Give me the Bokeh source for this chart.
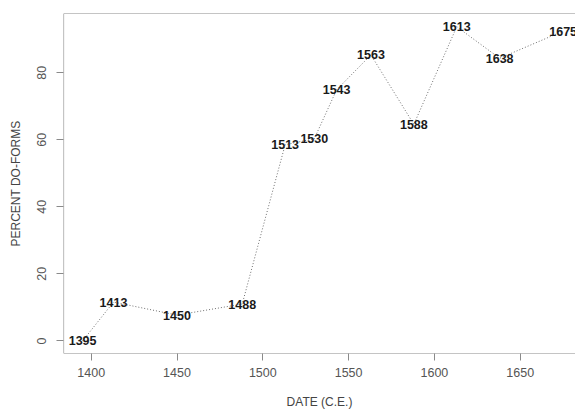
from bokeh.plotting import figure
from bokeh.models import ColumnDataSource, FixedTicker, Range1d, Span
from bokeh.core.properties import value
from bokeh.embed import file_html
from bokeh.resources import INLINE

# Data
years = [1395, 1413, 1450, 1488, 1513, 1530, 1543, 1563, 1588, 1613, 1638, 1675]
percent = [0.0, 11.6, 7.7, 11.0, 58.5, 60.3, 74.9, 85.3, 64.6, 93.7, 84.3, 92.4]
labels = [str(y) for y in years]
x_ticks = [1400, 1450, 1500, 1550, 1600, 1650]
y_ticks = [0, 20, 40, 60, 80]

X0, X1 = 1383.86, 1682.2
Y0, Y1 = -3.75, 97.65

src = ColumnDataSource(dict(x=years, y=percent, label=labels))

p = figure(width=575, height=411, output_backend="svg", toolbar_location=None,
           x_range=Range1d(X0, X1), y_range=Range1d(Y0, Y1),
           min_border_left=63, min_border_top=13, min_border_bottom=55, min_border_right=0)

p.background_fill_color = "white"
p.border_fill_color = "white"
p.outline_line_color = None
p.xgrid.visible = False
p.ygrid.visible = False

box_color = "#8a8a8a"
p.add_layout(Span(location=Y1, dimension="width", line_color=box_color, line_width=1.2))
p.add_layout(Span(location=Y0, dimension="width", line_color=box_color, line_width=1.2))
p.add_layout(Span(location=X0, dimension="height", line_color=box_color, line_width=1.2))

p.line("x", "y", source=src, line_color="#707070", line_width=1, line_dash="1 2")
p.text("x", "y", text="label", source=src, text_align="center", text_baseline="middle",
       text_font=value("Liberation Sans"), text_font_style="bold",
       text_font_size="12.5px", text_color="#1a1a1a")

for ax in (p.xaxis[0], p.yaxis[0]):
    ax.axis_line_color = None
    ax.major_tick_line_color = box_color
    ax.major_tick_out = 7
    ax.major_tick_in = 0
    ax.minor_tick_line_color = None
    ax.major_label_text_font = "Liberation Sans"
    ax.major_label_text_font_size = "12.5px"
    ax.major_label_text_color = "#555555"
    ax.axis_label_text_font = "Liberation Sans"
    ax.axis_label_text_font_size = "12px"
    ax.axis_label_text_font_style = "normal"
    ax.axis_label_text_color = "#444444"

p.xaxis.ticker = FixedTicker(ticks=x_ticks)
p.yaxis.ticker = FixedTicker(ticks=y_ticks)
p.xaxis.axis_label = "DATE (C.E.)"
p.yaxis.axis_label = "PERCENT DO-FORMS"
p.xaxis.major_label_standoff = 7
p.xaxis.axis_label_standoff = 15
p.yaxis.major_label_standoff = 10
p.yaxis.axis_label_standoff = 12
p.yaxis.major_label_orientation = "vertical"

open("out.html", "w").write(file_html(p, INLINE))
